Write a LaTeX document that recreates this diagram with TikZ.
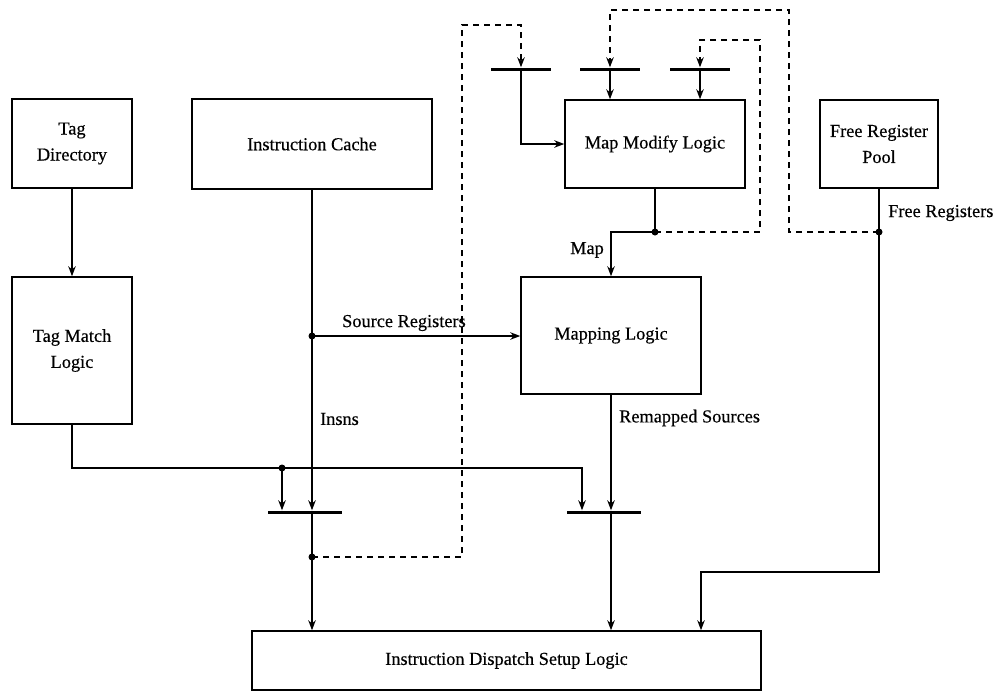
\documentclass[tikz,border=0pt]{standalone}
\usepackage{fontspec}
\setmainfont{Liberation Serif}
\newfontfamily\diagfont{Liberation Serif}[FakeBold=0.4]
\usetikzlibrary{arrows.meta}
\begin{document}
\begin{tikzpicture}[x=1pt,y=-1pt,
  box/.style={draw, line width=1.5pt, inner sep=0pt, align=center, font=\diagfont\fontsize{18.3}{26}\selectfont},
  wire/.style={line width=1.5pt},
  arr/.style={wire, -{Stealth[length=10pt,width=7.5pt]}},
  dwire/.style={wire, dash pattern=on 6pt off 5pt},
  darr/.style={dwire, -{Stealth[length=10pt,width=7.5pt]}},
  latch/.style={fill, inner sep=0pt, minimum height=3pt},
  lbl/.style={font=\diagfont\fontsize{18.3}{22}\selectfont, inner sep=0pt},
  dot/.style={circle, fill, inner sep=0pt, minimum size=7pt}]
\useasboundingbox (0,0) rectangle (997,691);

% boxes
\node[box, minimum width=120pt, minimum height=89pt] (tagdir) at (72,143.5) {Tag\\Directory};
\node[box, minimum width=120pt, minimum height=147pt] (tagmatch) at (72,350.5) {Tag Match\\Logic};
\node[box, minimum width=240pt, minimum height=90pt] (icache) at (312,144) {Instruction Cache};
\node[box, minimum width=180pt, minimum height=88pt] (mapmod) at (655,144) {Map Modify Logic};
\node[box, minimum width=118pt, minimum height=88pt] (freepool) at (879,144) {Free Register\\Pool};
\node[box, minimum width=180pt, minimum height=117pt] (maplogic) at (611,335.5) {Mapping Logic};
\node[box, minimum width=509pt, minimum height=59pt] (dispatch) at (506.5,660.5) {Instruction Dispatch Setup Logic};

% latches
\node[latch, minimum width=74pt] (L1) at (305,512) {};
\node[latch, minimum width=74pt] (L2) at (604,512) {};
\node[latch, minimum width=60pt] (T1) at (521,69) {};
\node[latch, minimum width=60pt] (T2) at (610,69) {};
\node[latch, minimum width=60pt] (T3) at (700,69) {};

% junction dots
\node[dot] (dtag) at (282,468) {};
\node[dot] (dsrc) at (312,336) {};
\node[dot] (dfb) at (312,557) {};
\node[dot] (dmap) at (655,232) {};
\node[dot] (dfree) at (879,232) {};
\coordinate (tbend) at (582,468);
\coordinate (frb) at (701,572);

% solid connectors
\draw[arr] (tagdir) -- (tagmatch);
\draw[arr] (tagmatch.south) |- (tbend) -- (tbend |- L2.north);
\draw[arr] (dtag.center) -- (dtag.center |- L1.north);
\draw[arr] (icache.south) -- (icache.south |- L1.north);
\draw[arr] (icache.south |- L1.south) -- (icache.south |- dispatch.north);
\draw[arr] (dsrc.center) -- (dsrc.center -| maplogic.west);
\draw[arr] (T1.south) |- (mapmod.west);
\draw[arr] (T2.south) -- (T2.south |- mapmod.north);
\draw[arr] (T3.south) -- (T3.south |- mapmod.north);
\draw[wire] (mapmod.south) -- (dmap.center);
\draw[arr] (dmap.center) -| (maplogic.north);
\draw[arr] (maplogic.south) -- (maplogic.south |- L2.north);
\draw[arr] (maplogic.south |- L2.south) -- (maplogic.south |- dispatch.north);
\draw[arr] (freepool.south) |- (frb) -- (frb |- dispatch.north);

% dashed feedback
\draw[darr] (dfb.center) -- (462,557) -- (462,25) -| (T1.north);
\draw[darr] (dmap.center) -- (760,232) -- (760,40) -| (T3.north);
\draw[darr] (dfree.center) -- (789,232) -- (789,10) -| (T2.north);

% labels
\node[lbl, anchor=west] (lsrc) at (342,323) {Source Registers};
\node[lbl, anchor=west] (linsns) at (320,419) {Insns};
\node[lbl, anchor=east] (lmap) at (604,250) {Map};
\node[lbl, anchor=west] (lrem) at (619,418) {Remapped Sources};
\node[lbl, anchor=west] (lfree) at (888,213) {Free Registers};
\end{tikzpicture}
\end{document}
